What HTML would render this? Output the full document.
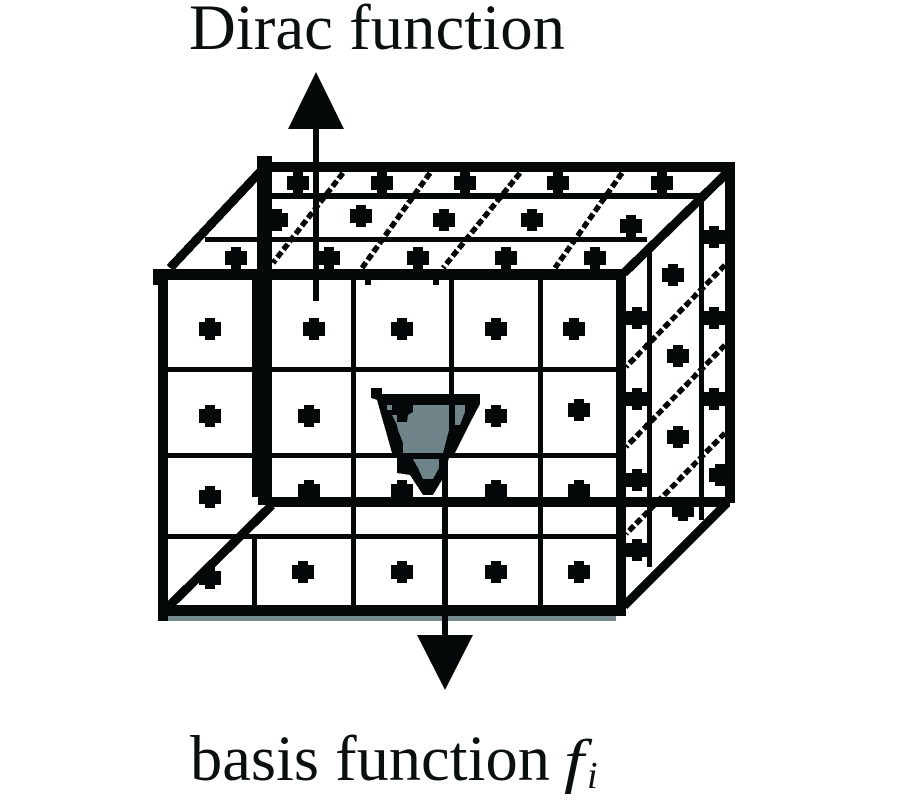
<!DOCTYPE html>
<html>
<head>
<meta charset="utf-8">
<style>
html,body{margin:0;padding:0;background:#fff;width:900px;height:800px;overflow:hidden}
svg{display:block}
</style>
</head>
<body>
<svg width="900" height="800" viewBox="0 0 900 800" xmlns="http://www.w3.org/2000/svg">
<defs>
<polygon id="d" points="-5,-11 5,-11 5,-7 11,-7 11,7 5,7 5,11 -5,11 -5,7 -11,7 -11,-7 -5,-7"/>
</defs>
<rect width="900" height="800" fill="#fff"/>

<text x="189" y="49" font-family="'Liberation Serif',serif" font-size="65" fill="#0a0f10" textLength="376" lengthAdjust="spacingAndGlyphs">Dirac function</text>
<text x="190" y="780" font-family="'Liberation Serif',serif" font-size="65" fill="#0a0f10" textLength="360" lengthAdjust="spacingAndGlyphs">basis function</text>
<text transform="translate(564,781) scale(1.2,1)" font-family="'Liberation Serif',serif" font-style="italic" font-size="60" fill="#0a0f10">f</text>
<text x="587" y="788" font-family="'Liberation Serif',serif" font-style="italic" font-size="38" fill="#0a0f10">i</text>

<g fill="#040808" shape-rendering="crispEdges">
<!-- shadow -->
<rect x="168" y="616" width="448" height="5" fill="#76898d"/>

<!-- top face lines -->
<rect x="272" y="193" width="433" height="6"/>
<rect x="205" y="237" width="442" height="5"/>

<!-- front grid -->
<rect x="168" y="367" width="448" height="5"/>
<rect x="168" y="453" width="448" height="5"/>
<rect x="168" y="534" width="448" height="5"/>
<rect x="351" y="280" width="5" height="325"/>
<rect x="449" y="280" width="5" height="173"/>
<rect x="442" y="453" width="6" height="183"/>
<rect x="538" y="280" width="5" height="325"/>
<rect x="252" y="539" width="5" height="66"/>

<!-- side face lines -->
<rect x="647" y="247" width="5" height="320"/>
<rect x="699" y="195" width="5" height="325"/>

<!-- frame -->
<rect x="257" y="162" width="478" height="10"/>
<rect x="725" y="162" width="10" height="341"/>
<rect x="272" y="497" width="458" height="10"/>
<rect x="257" y="156" width="15" height="124"/>
<rect x="252" y="280" width="20" height="217"/>
<rect x="258" y="497" width="14" height="8"/>
<rect x="153" y="269" width="473" height="11"/>
<rect x="153" y="269" width="15" height="16"/>
<rect x="158" y="269" width="10" height="352"/>
<rect x="158" y="605" width="468" height="11"/>
<rect x="616" y="269" width="10" height="347"/>
</g>

<!-- main diagonals -->
<g stroke="#040808" stroke-width="9" fill="none" shape-rendering="crispEdges">
<line x1="260" y1="172" x2="170" y2="268"/>
<line x1="730" y1="170" x2="624" y2="273"/>
<line x1="727" y1="503" x2="624" y2="606"/>
<line x1="272" y1="505" x2="168" y2="607"/>
</g>

<!-- dashed diagonals -->
<g stroke="#040808" stroke-width="5.5" fill="none" stroke-dasharray="7 3" shape-rendering="crispEdges">
<line x1="343" y1="173" x2="273" y2="263"/>
<line x1="430" y1="173" x2="362" y2="268"/>
<line x1="520" y1="173" x2="443" y2="268"/>
<line x1="622" y1="173" x2="555" y2="268"/>
<line x1="725" y1="265" x2="626" y2="367"/>
<line x1="725" y1="345" x2="626" y2="447"/>
<line x1="725" y1="433" x2="626" y2="534"/>
</g>
<g fill="#040808" shape-rendering="crispEdges">
<rect x="365" y="272" width="6" height="13"/>
<rect x="433" y="272" width="6" height="13"/>
</g>

<!-- dots -->
<g fill="#040808" shape-rendering="crispEdges">
<use href="#d" x="210" y="329"/><use href="#d" x="314" y="329"/><use href="#d" x="402" y="329"/><use href="#d" x="496" y="329"/><use href="#d" x="574" y="329"/>
<use href="#d" x="210" y="416"/><use href="#d" x="309" y="416"/><use href="#d" x="496" y="416"/><use href="#d" x="579" y="410"/>
<use href="#d" x="210" y="497"/><use href="#d" x="309" y="491"/><use href="#d" x="402" y="491"/><use href="#d" x="496" y="491"/><use href="#d" x="579" y="491"/>
<use href="#d" x="210" y="578"/><use href="#d" x="303" y="572"/><use href="#d" x="402" y="572"/><use href="#d" x="496" y="572"/><use href="#d" x="579" y="572"/>

<use href="#d" x="298" y="183"/><use href="#d" x="382" y="183"/><use href="#d" x="465" y="183"/><use href="#d" x="558" y="183"/><use href="#d" x="662" y="183"/>
<use href="#d" x="277" y="220"/><use href="#d" x="361" y="216"/><use href="#d" x="444" y="220"/><use href="#d" x="532" y="220"/><use href="#d" x="631" y="226"/>
<use href="#d" x="236" y="258"/><use href="#d" x="329" y="258"/><use href="#d" x="418" y="258"/><use href="#d" x="506" y="258"/><use href="#d" x="595" y="258"/>

<use href="#d" x="714" y="237"/><use href="#d" x="673" y="275"/><use href="#d" x="637" y="318"/><use href="#d" x="714" y="318"/><use href="#d" x="678" y="356"/>
<use href="#d" x="637" y="399"/><use href="#d" x="714" y="399"/><use href="#d" x="678" y="437"/><use href="#d" x="637" y="480"/><use href="#d" x="720" y="475"/>
<use href="#d" x="683" y="510"/><use href="#d" x="637" y="550"/>
<rect x="626" y="313" width="21" height="9"/><rect x="704" y="313" width="21" height="9"/>
<rect x="626" y="394" width="21" height="9"/><rect x="704" y="394" width="21" height="9"/>
<rect x="704" y="232" width="21" height="9"/>
</g>

<!-- triangle -->
<g shape-rendering="crispEdges">
<polygon points="371,388 382,388 382,394 480,394 480,404 470,423 455,453 449,458 442,480 433,495 423,495 410,475 397,473 397,458 392,453 377,400 371,398" fill="#040808"/>
<polygon points="413,405 449,405 449,430 443,453 403,453 403,443 398,430 397,425 392,415 397,415 397,422 407,422 408,415 413,412" fill="#6f8488"/>
<rect x="387" y="405" width="5" height="5" fill="#6f8488"/>
<polygon points="455,405 465,405 465,412 460,425 455,425" fill="#6f8488"/>
<polygon points="413,459 439,459 439,468 433,479 423,479 418,468" fill="#6f8488"/>
<g fill="#040808">
<rect x="398" y="453" width="55" height="5"/>
<rect x="442" y="453" width="6" height="183"/>
</g>
</g>

<!-- arrows -->
<rect x="313" y="120" width="6" height="181" fill="#040808" shape-rendering="crispEdges"/>
<polygon points="316,72 288,129 344,129" fill="#040808"/>
<polygon points="417,635 473,635 445,690" fill="#040808"/>
</svg>
</body>
</html>
